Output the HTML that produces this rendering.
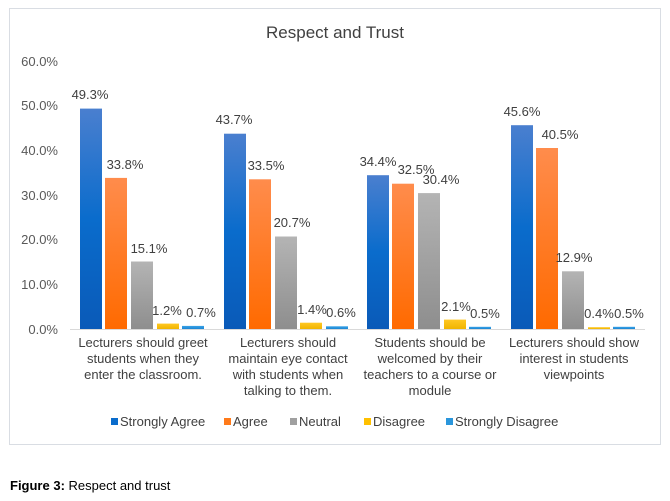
<!DOCTYPE html>
<html><head><style>body{margin:0;background:#fff;}svg{display:block;font-family:"Liberation Sans",sans-serif;}</style></head><body>
<svg width="670" height="501" xmlns="http://www.w3.org/2000/svg">
<defs>
<linearGradient id="b" x1="0" y1="0" x2="0" y2="1"><stop offset="0" stop-color="#4a7fcf"/><stop offset="0.5" stop-color="#0a6ccc"/><stop offset="1" stop-color="#0a5ab8"/></linearGradient>
<linearGradient id="o" x1="0" y1="0" x2="0" y2="1"><stop offset="0" stop-color="#ff8c4c"/><stop offset="1" stop-color="#ff6a00"/></linearGradient>
<linearGradient id="g" x1="0" y1="0" x2="0" y2="1"><stop offset="0" stop-color="#b4b4b4"/><stop offset="1" stop-color="#8e8e8e"/></linearGradient>
<linearGradient id="y" x1="0" y1="0" x2="0" y2="1"><stop offset="0" stop-color="#ffc824"/><stop offset="1" stop-color="#f0b400"/></linearGradient>
<linearGradient id="c" x1="0" y1="0" x2="0" y2="1"><stop offset="0" stop-color="#3aa2e6"/><stop offset="1" stop-color="#1a86d4"/></linearGradient>
</defs>
<rect x="9.5" y="8.5" width="651" height="436" fill="#fff" stroke="#d9dde3"/>
<text x="335" y="38" font-size="17" fill="#404040" text-anchor="middle">Respect and Trust</text>
<g font-size="13" fill="#595959" text-anchor="end">
<text x="58" y="66">60.0%</text><text x="58" y="110">50.0%</text><text x="58" y="155">40.0%</text><text x="58" y="200">30.0%</text><text x="58" y="244">20.0%</text><text x="58" y="289">10.0%</text><text x="58" y="334">0.0%</text>
</g>
<line x1="70" y1="329.5" x2="645" y2="329.5" stroke="#d9d9d9"/>
<g>
<rect x="80" y="108.6" width="22" height="220.4" fill="url(#b)"/>
<rect x="105" y="177.9" width="22" height="151.1" fill="url(#o)"/>
<rect x="131" y="261.5" width="22" height="67.5" fill="url(#g)"/>
<rect x="157" y="323.6" width="22" height="5.4" fill="url(#y)"/>
<rect x="182" y="325.9" width="22" height="3.1" fill="url(#c)"/>
<rect x="224" y="133.7" width="22" height="195.3" fill="url(#b)"/>
<rect x="249" y="179.3" width="22" height="149.7" fill="url(#o)"/>
<rect x="275" y="236.5" width="22" height="92.5" fill="url(#g)"/>
<rect x="300" y="322.7" width="22" height="6.3" fill="url(#y)"/>
<rect x="326" y="326.3" width="22" height="2.7" fill="url(#c)"/>
<rect x="367" y="175.2" width="22" height="153.8" fill="url(#b)"/>
<rect x="392" y="183.7" width="22" height="145.3" fill="url(#o)"/>
<rect x="418" y="193.1" width="22" height="135.9" fill="url(#g)"/>
<rect x="444" y="319.6" width="22" height="9.4" fill="url(#y)"/>
<rect x="469" y="326.8" width="22" height="2.2" fill="url(#c)"/>
<rect x="511" y="125.2" width="22" height="203.8" fill="url(#b)"/>
<rect x="536" y="148.0" width="22" height="181.0" fill="url(#o)"/>
<rect x="562" y="271.3" width="22" height="57.7" fill="url(#g)"/>
<rect x="588" y="327.2" width="22" height="1.8" fill="url(#y)"/>
<rect x="613" y="326.8" width="22" height="2.2" fill="url(#c)"/>
</g>
<g font-size="13" fill="#404040" text-anchor="middle">
<text x="90" y="99">49.3%</text><text x="125" y="169">33.8%</text><text x="149" y="253">15.1%</text><text x="167" y="315">1.2%</text><text x="201" y="317">0.7%</text>
<text x="234" y="124">43.7%</text><text x="266" y="170">33.5%</text><text x="292" y="227">20.7%</text><text x="312" y="314">1.4%</text><text x="341" y="317">0.6%</text>
<text x="378" y="166">34.4%</text><text x="416" y="174">32.5%</text><text x="441" y="184">30.4%</text><text x="456" y="311">2.1%</text><text x="485" y="318">0.5%</text>
<text x="522" y="116">45.6%</text><text x="560" y="139">40.5%</text><text x="574" y="262">12.9%</text><text x="599" y="318">0.4%</text><text x="629" y="318">0.5%</text>
</g>
<g font-size="13" fill="#404040" text-anchor="middle">
<text x="143" y="347">Lecturers should greet</text><text x="143" y="363">students when they</text><text x="143" y="379">enter the classroom.</text>
<text x="288" y="347">Lecturers should</text><text x="288" y="363">maintain eye contact</text><text x="288" y="379">with students when</text><text x="288" y="395">talking to them.</text>
<text x="430" y="347">Students should be</text><text x="430" y="363">welcomed by their</text><text x="430" y="379">teachers to a course or</text><text x="430" y="395">module</text>
<text x="574" y="347">Lecturers should show</text><text x="574" y="363">interest in students</text><text x="574" y="379">viewpoints</text>
</g>
<g font-size="13" fill="#404040">
<rect x="111" y="418" width="7" height="7" fill="#0a6ccc"/><text x="120" y="426">Strongly Agree</text>
<rect x="224" y="418" width="7" height="7" fill="#ff7a1a"/><text x="233" y="426">Agree</text>
<rect x="290" y="418" width="7" height="7" fill="#a0a0a0"/><text x="299" y="426">Neutral</text>
<rect x="364" y="418" width="7" height="7" fill="#ffc000"/><text x="373" y="426">Disagree</text>
<rect x="446" y="418" width="7" height="7" fill="#2a96dc"/><text x="455" y="426">Strongly Disagree</text>
</g>
<text x="10" y="490" font-size="13" fill="#000"><tspan font-weight="bold">Figure 3:</tspan> Respect and trust</text>
</svg>
</body></html>
